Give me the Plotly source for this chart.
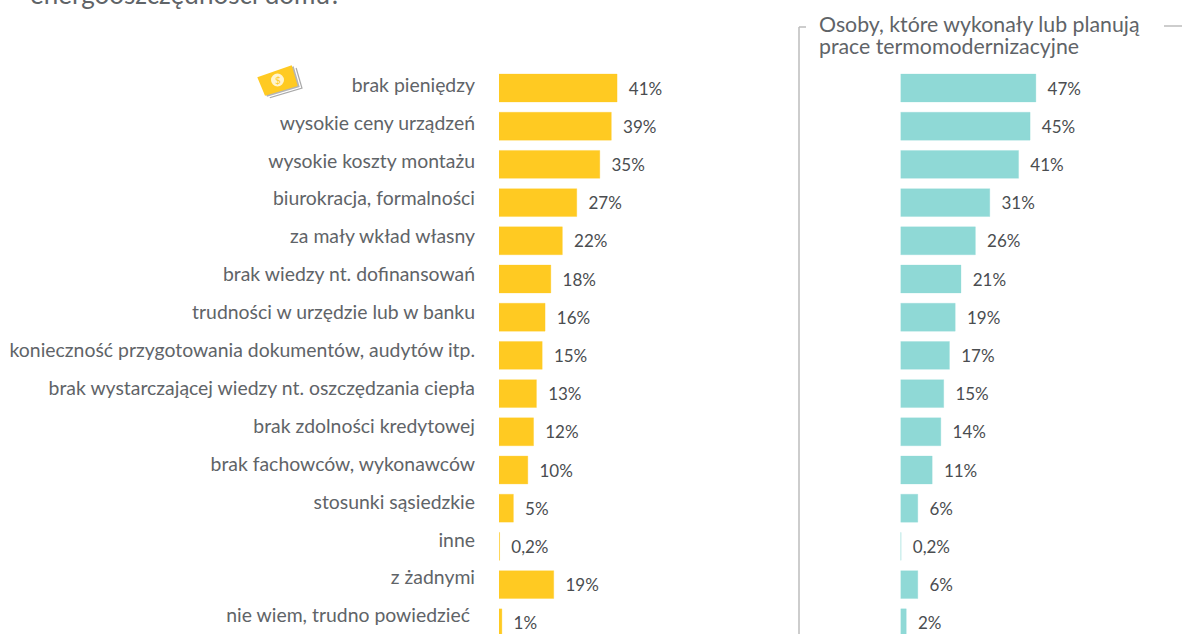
import plotly.graph_objects as go

categories = ["brak pieniędzy", "wysokie ceny urządzeń", "wysokie koszty montażu",
              "biurokracja, formalności", "za mały wkład własny",
              "brak wiedzy nt. dofinansowań", "trudności w urzędzie lub w banku",
              "konieczność przygotowania dokumentów, audytów itp.",
              "brak wystarczającej wiedzy nt. oszczędzania ciepła",
              "brak zdolności kredytowej", "brak fachowców, wykonawców",
              "stosunki sąsiedzkie", "inne", "z żadnymi",
              "nie wiem, trudno powiedzieć\u00a0"]
all_people = [41, 39, 35, 27, 22, 18, 16, 15, 13, 12, 10, 5, 0.2, 19, 1]
renovators = [47, 45, 41, 31, 26, 21, 19, 17, 15, 14, 11, 6, 0.2, 6, 2]
right_title_lines = ["Osoby, które wykonały lub planują", "prace termomodernizacyjne"]
top_title = "energooszczędności domu?"

W, H = 1182, 634
FONT = "Lato"
GREY = "#5f6468"
YELLOW = "#ffca22"
TEAL = "#8fd9d6"
ROW = 38.2
LABEL_ROW = 37.9
Y0 = 88


def fmt(v):
    return "\u00a0\u00a0" + f"{v:g}".replace(".", ",") + "%"


def px(x, y):
    return x / W, 1 - y / H


def poly(points, color, dx=0, dy=0):
    pts = [px(x + dx, y + dy) for x, y in points]
    d = "M" + " L".join(f"{a:.5f},{b:.5f}" for a, b in pts) + " Z"
    return dict(type="path", xref="paper", yref="paper", path=d, fillcolor=color, line=dict(width=0))


def hline(x0, y0, x1, y1):
    a, b = px(x0, y0)
    c, d = px(x1, y1)
    return dict(type="line", xref="paper", yref="paper", x0=a, y0=b, x1=c, y1=d,
                line=dict(color="#bdbdbd", width=1.5))


note = [(257.3, 77.3), (291.7, 65.3), (297.7, 86), (265, 95.7)]
cx0, cy0 = px(271, 73.5)
cx1, cy1 = px(284, 86.5)

fig = go.Figure()
positions = list(range(len(categories)))
for vals, col, edge, xa, ya in [(all_people, YELLOW, "rgba(255,202,34,0.3)", "x", "y"),
                                (renovators, TEAL, "rgba(143,217,214,0.3)", "x2", "y2")]:
    fig.add_trace(go.Bar(
        x=vals, y=positions, orientation="h", xaxis=xa, yaxis=ya, width=0.73,
        marker=dict(color=col, line=dict(color=edge, width=1)),
        text=[fmt(v) for v in vals], textposition="outside", cliponaxis=False,
        textfont=dict(family=FONT, size=17, color="#4a4d50"),
        showlegend=False, hoverinfo="skip"))

yr = [(H - Y0) / ROW, -Y0 / ROW]
fig.update_layout(
    width=W, height=H, margin=dict(l=0, r=0, t=0, b=0, pad=0, autoexpand=False),
    paper_bgcolor="white", plot_bgcolor="white",
    font=dict(family=FONT, color=GREY),
    xaxis=dict(domain=[499 / W, 780 / W], range=[0, 281 / 2.88], visible=False),
    xaxis2=dict(domain=[900.5 / W, 1182 / W], range=[0, 281.5 / 2.88], visible=False),
    yaxis=dict(domain=[0, 1], range=yr, tickmode="array",
               tickvals=[p * LABEL_ROW / ROW for p in positions], ticktext=categories,
               showline=False, showgrid=False, zeroline=False, ticks="", ticklabelstandoff=23,
               ticklabelshift=3, tickfont=dict(family=FONT, size=19.4, color=GREY)),
    yaxis2=dict(domain=[0, 1], range=yr, anchor="x2", visible=False),
    shapes=[
        hline(799, 634, 799, 27), hline(799, 27, 806, 27), hline(1164, 26, 1182, 26),
        poly(note, "#a9a9a9", 5, 2.5), poly(note, "#ffffff", 3.5, 1.7), poly(note, "#b5b5b5", 2, 1),
        poly(note, YELLOW),
        dict(type="circle", xref="paper", yref="paper", x0=cx0, y0=cy0, x1=cx1, y1=cy1,
             fillcolor="#fff4cf", line=dict(width=0)),
    ],
    annotations=[
        dict(text=right_title_lines[0], xref="paper", yref="paper", x=817 / W, y=1 - 9 / H, xanchor="left",
             yanchor="top", align="left", showarrow=False, font=dict(family=FONT, size=21.3, color=GREY)),
        dict(text=right_title_lines[1], xref="paper", yref="paper", x=817 / W, y=1 - 31 / H, xanchor="left",
             yanchor="top", align="left", showarrow=False, font=dict(family=FONT, size=21.3, color=GREY)),
        dict(text=top_title, xref="paper", yref="paper", x=28 / W, y=1 + 24 / H, xanchor="left", yanchor="top",
             align="left", showarrow=False, font=dict(family=FONT, size=26, color=GREY)),
        dict(text="$", xref="paper", yref="paper", x=277.5 / W, y=1 - 80 / H, xanchor="center", yanchor="middle",
             showarrow=False, font=dict(family=FONT, size=10, color=YELLOW)),
    ],
)
fig.write_html("out.html", config=dict(displayModeBar=False), post_script="document.body.style.margin='0';")
